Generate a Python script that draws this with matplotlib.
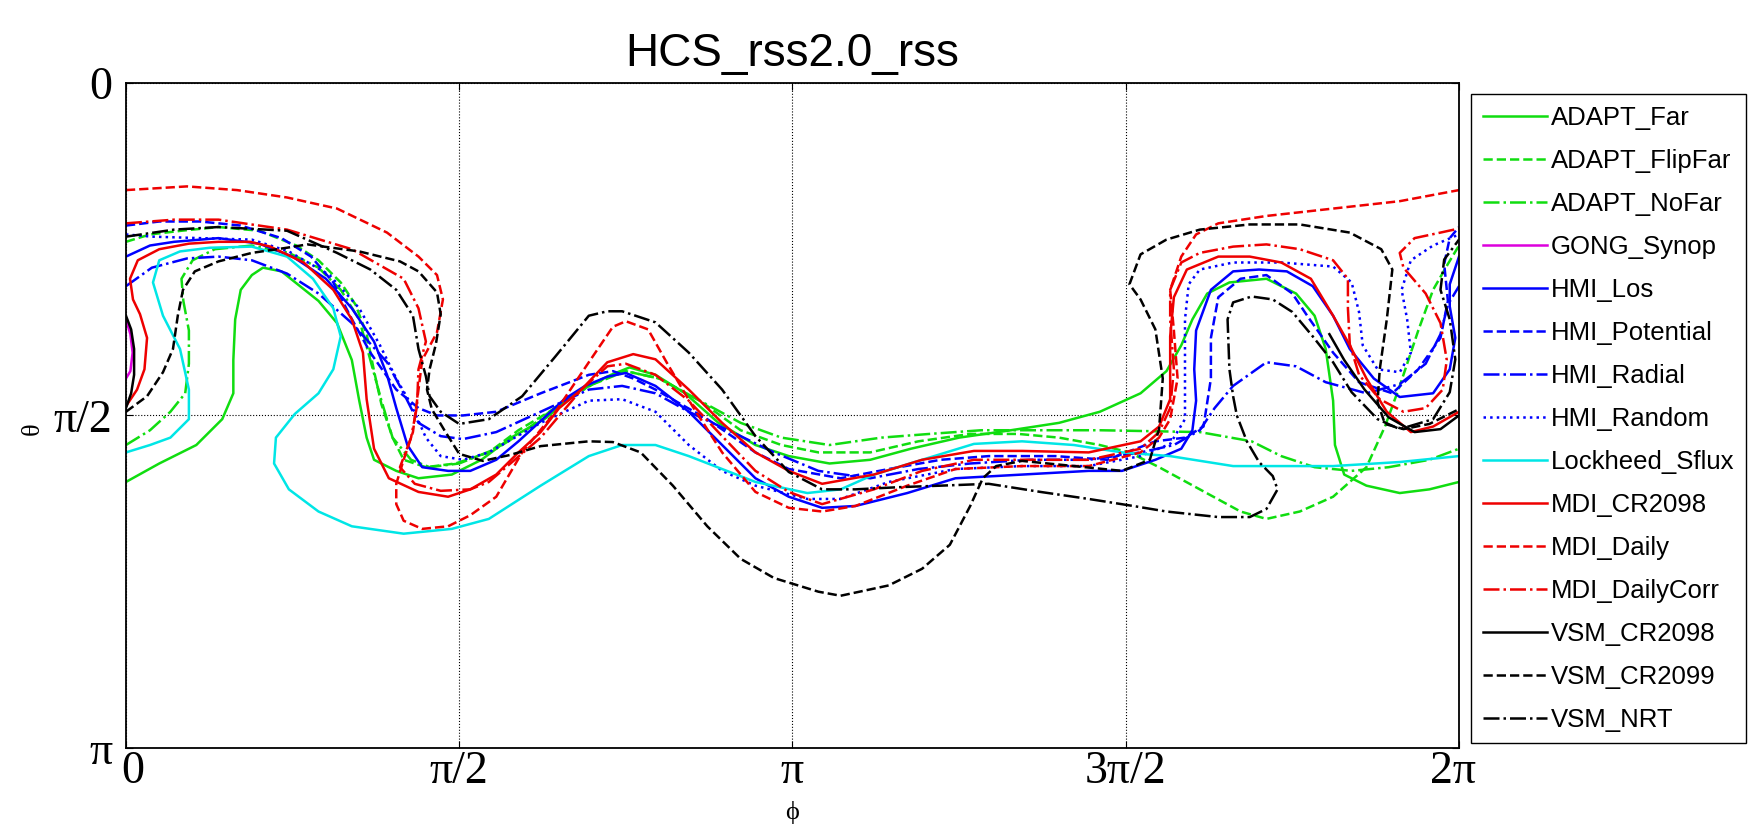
import numpy as np
import matplotlib
matplotlib.use("Agg")
import matplotlib.pyplot as plt
import matplotlib.transforms as mtrans

# HCS contours, (phi, theta) in degrees
adapt_far = [(0,108),(9,103),(19,98),(26,91),(29,84),(29,75),(29.5,64),(31,56),(34,52),(37,50),(42,51),(47,55),(52,59),(57,65),(61,75),(63,86),(65,96),(67,102),(73,105),(79,107),(88,106),(96,102),(104,96),(113,91),(123,83),(131,79),(136,77),(143,79),(151,84),(160,92),(170,98),(179,101),(190,103),(201,102),(212,99),(225,96),(239,94),(252,92),(263,89),(274,84),(281,78),(285,71),(288,64),(292,57),(298,54),(308,53),(316,57),(321,63),(324,72),(326,86),(326.5,98),(329,106),(335,109),(344,111),(352,110),(360,108)]
adapt_flipfar = [(0,43),(6.5,41),(15,40),(25,39),(36,40),(46,44),(52,48),(58,54),(62,60),(65,68),(67,78),(69,87),(72,96),(75,102),(81,104),(89,103),(98,100),(106,94),(116,88),(125,82),(135,78),(144,80),(155,86),(166,94),(177,98),(187,100),(201,100),(214,97),(228,95),(241,95),(252,96),(263,98),(271,100),(279,104),(290,110),(301,116),(308,118),(317,116),(326,112),(335,104),(340,93),(344,82),(349,67),(353,56),(357,49),(360,44)]
adapt_nofar = [(0,98),(6.5,94),(12,89),(16,84),(17,76),(17,67),(15.5,59),(15,53),(18,48),(24,45),(34,44),(44,46),(52,50),(58,56),(63,64),(66,75),(69,86),(72,96),(77,102),(82,104),(90,103),(100,99),(108,94),(117,87),(127,81),(135,78),(144,80),(155,86),(166,92),(177,96),(190,98),(204,96),(217,95),(231,94),(247,94),(263,94),(290,94.5),(304,97),(312,101),(321,104),(331,105),(341,104),(352,102),(360,99)]
gong_synop = [(0,64),(1.2,68),(1.8,73),(1.2,78),(0,80)]
hmi_los = [(0,47),(6.5,44),(13,43),(25,42),(36,43.5),(45,47),(54,53),(61,61),(67,70),(70.5,79),(73,88),(76,98),(80,104),(87,105),(93,105),(100,102),(106,97),(112,91.5),(118.5,85.5),(124,82),(130,79.5),(135,78.5),(143,82),(152,89),(161,98),(170,107),(179,112),(188,115),(197,114.5),(211,111),(224,107),(242,106),(260,105),(269,105),(278,102),(285,99),(288,94),(289,86),(288.5,77.5),(289,67),(293,56),(299,51),(306,50.5),(313.5,51),(320.5,55),(326,63),(330.5,72),(337,80),(344,85),(353,84),(357.5,77.5),(359,69),(357.5,60.5),(357.5,54.5),(360,47)]
hmi_potential = [(0,38.6),(9,37.5),(20,37.5),(31,38.6),(42,42),(50,47),(56,54),(60.5,63),(66,73),(73,83),(79,88),(84,90),(91,90),(100,89),(112,84),(125,79),(131.5,78),(137,80),(143,83),(157,91),(170,100),(179,104.5),(193,107),(206,104.5),(220,102),(233,101),(251,101),(265,102),(278,97),(286,96),(291,93),(293,80),(293,69),(295,58),(301,53),(308,52),(315,57),(319,63),(326,73),(333,81),(342,84),(349,77.5),(355,69),(357,59),(356,49),(357.5,42),(360,39)]
hmi_radial = [(0,55),(7,50),(16.5,47.5),(25,47),(34,48),(43.5,51.6),(52,57),(61,65),(70.5,75.6),(75,84),(79,92),(85,95.6),(91,96.4),(100,94.5),(112,89),(125,83),(134,82),(143,84),(152,89),(166,95.6),(175,100),(187,105),(201,107),(214,104.5),(228,103),(244,102),(260,102),(274,100),(283,98),(290,94),(294,88),(299,82),(308,75.6),(316,76.7),(324,81),(335,84),(344,81.5),(351,76),(355,68),(357,60),(360,55)]
hmi_random = [(0,41),(7,41.6),(20,42),(34,42.4),(44,45.6),(55,52),(63,61),(68.6,71),(73,80),(77,87),(81,96),(85,101),(91,102),(98,100),(112,92),(125,86),(134,85.6),(143,89),(152,98),(161,105),(170,109),(184,112.6),(193,112.6),(206,108),(224,104.5),(242,103.7),(260,103.7),(274,101),(282,97.7),(286,91),(286,77.5),(286,64),(287,54.5),(290,50.5),(299,48.6),(312,48.6),(326,49.7),(331,54),(333,62),(334,71),(338,77.5),(344,78.3),(347,73),(346,64),(344.5,56),(347,48),(353,44),(360,41)]
lockheed_sflux = [(0,100),(6.5,98),(12,96),(17,91),(17,83),(14.6,72),(10,63),(7.3,54),(9,48),(14.6,45.6),(22.7,44.6),(34,44.3),(43.5,47),(50.5,53),(56,61),(58,68.6),(56,77.5),(52,84),(45.6,89.6),(40.5,96),(40,103),(44,110),(52,116),(61,120),(75,122),(88,120.7),(98,118),(112,109),(125,101),(134,98),(143,98),(152,101),(161,104.5),(170,108),(184,111),(193,110),(202,106),(215,102),(229,97.7),(242,97),(256,98),(269,100),(282,101),(299,103.7),(326,103.7),(344,102.6),(360,101)]
mdi_cr2098 = [(0,87.5),(3,83),(5,77.5),(5.7,69),(3.8,62.6),(1.9,58.6),(1.1,53),(3.2,48),(9,45),(17,43.5),(25,43),(33.5,43),(39,44.3),(48,48.6),(56,56),(61,64),(64,73),(65,85.6),(67,99),(71,107),(79,110.7),(87,112),(93,110),(100,106),(106,100),(112,94.5),(117,88),(123,83),(130,75.6),(137,73.4),(143,74.8),(152,83),(161,92),(170,100),(179,105),(188,108.5),(202,106),(215,102),(229,99.6),(242,99.6),(260,100),(274,97),(279,93),(282,85.6),(282,68.6),(283,58),(286.5,50.5),(295,47),(303.5,47),(312,48.6),(320,53),(326,63),(330.5,71),(335,80),(340.5,89),(347,94.5),(353,93),(360,89)]
mdi_daily = [(0,29),(16.5,28),(30,29),(43.5,31),(57,34),(70.5,40.5),(79,47),(84,52),(85.6,58.6),(84,67.5),(80,75),(79,83),(77.5,94.5),(75,102),(73,108.5),(73,114),(75,118.5),(80,120.7),(87,120),(93,117),(100,112),(107,100),(116,89),(125,75.6),(131.5,66),(135,64.5),(141,66.7),(146,75.6),(153,87.5),(161,100),(170,110.7),(179,115),(188,116),(197,114.5),(211,109),(224,104.5),(242,103.7),(260,103.7),(274,100),(279,96),(282,91),(284,80),(283,67),(282,56),(285,47),(289,41),(295,38),(308,36),(326,34),(344,32),(360,29)]
mdi_dailycorr = [(0,38),(13,37),(25,37),(43.5,39.7),(61,45),(75,53),(79,61),(81,70),(79,77.5),(78.6,87.5),(77,96),(74,104),(78,108.5),(85,110.4),(93,110),(98,108),(112,96),(123,83),(130,76.7),(135,76),(143,79),(152,86),(161,95.6),(170,105),(179,110.7),(188,114),(202,110),(215,105),(229,102),(242,102),(260,102),(274,99),(279,94.5),(282,88),(283,77.5),(282,64),(282,56),(285,48.6),(290,46),(299,44.3),(308,43.7),(317,45),(326,48),(330,53),(330,61),(330.5,70.7),(333,79),(338.6,85.6),(345,89),(351,88),(355.6,83),(356.7,75),(355,65),(351,57),(345,50),(344,46),(348,42),(355,40.5),(360,39.4)]
vsm_cr2098 = [(0,63),(1.4,66.7),(2.2,72),(2.2,79),(1.4,84),(0,88),(np.nan,np.nan),(325,68),(329,75),(334.5,83),(341,90.5),(348,94.5),(355,93.7),(360,90)]
vsm_cr2099 = [(0,89),(5.7,84.8),(10,78.3),(12.7,72),(14,63),(15.4,56),(18.6,51),(25,48.3),(34,46),(43.5,44.6),(49,43.7),(63,45.6),(74,48.3),(79,51),(84,56.7),(85,62.6),(83.7,70.7),(82,77.5),(81.3,83),(82.6,88.3),(86,94),(90,100.4),(96.4,102.3),(103.7,100.7),(112,98.3),(125,97),(131.5,97.2),(139,100),(147.7,109),(157,120),(166,128.8),(175,134),(187,137.7),(193,138.8),(206,136),(215,131.5),(222.5,125),(228,114.5),(231.4,107),(235,103.7),(242,102.3),(256,103.7),(269,105),(276.5,102),(279,93.7),(280,80),(278,66.7),(274,58.6),(271,54.5),(274,46.4),(281,42.4),(290,39.7),(303.5,38.3),(317,38.3),(330.5,40.5),(339,45),(342,50.5),(340.5,64),(338.6,77.5),(338,86.4),(340,92.3),(345,93.7),(352,92.3),(360,88.3)]
vsm_nrt = [(0,41.6),(13,39.7),(25,39),(43.5,40),(57,46),(66,50.5),(73,56),(77.5,63),(79,72),(81,79.4),(82,84.8),(85,89),(90,92.3),(98,91),(107,84.8),(116,74),(125,63),(130,61.8),(134,61.8),(143,64.8),(152,73),(161,83),(170,95.6),(179,105.3),(188,110),(197,110),(209,109.4),(220,109),(233,108.5),(247,110.7),(260,112.6),(272,114.5),(281,116),(295,117.5),(303.5,117.5),(308,115.3),(311,110),(309.7,106.4),(306,102.6),(302.7,97),(300,90),(299,84.8),(298,77.5),(297.5,64),(299,59.4),(304,57.8),(309.7,58.6),(315,62),(320.5,68.6),(326,75.6),(331,83.7),(338,91),(344,93.7),(353,91),(357.5,83.7),(359,74.8),(357.5,64),(355,56),(356,47.8),(360,42.4)]

names = ["ADAPT_Far", "ADAPT_FlipFar", "ADAPT_NoFar", "GONG_Synop", "HMI_Los",
         "HMI_Potential", "HMI_Radial", "HMI_Random", "Lockheed_Sflux", "MDI_CR2098",
         "MDI_Daily", "MDI_DailyCorr", "VSM_CR2098", "VSM_CR2099", "VSM_NRT"]
curves = [adapt_far, adapt_flipfar, adapt_nofar, gong_synop, hmi_los,
          hmi_potential, hmi_radial, hmi_random, lockheed_sflux, mdi_cr2098,
          mdi_daily, mdi_dailycorr, vsm_cr2098, vsm_cr2099, vsm_nrt]

green, blue, red = "#10dd10", "#0000ff", "#ee0000"
colors = [green, green, green, "#dd00dd", blue, blue, blue, blue, "#00e6e6",
          red, red, red, "k", "k", "k"]
styles = ["-", "--", "-.", "-", "-", "--", "-.", ":", "-", "-", "--", "-.", "-", "--", "-."]

fig = plt.figure(figsize=(17.64, 8.32), dpi=100)
ax = fig.add_axes([0.0714, 0.101, 0.7557, 0.7993])

for name, pts, c, ls in zip(names, curves, colors, styles):
    arr = np.array(pts, dtype=float)
    ax.plot(np.deg2rad(arr[:, 0]), np.deg2rad(arr[:, 1]), color=c, linestyle=ls,
            linewidth=1.8, label=name)

ax.set_xlim(0, 2 * np.pi)
ax.set_ylim(np.pi, 0)
ax.set_xticks([0, np.pi / 2, np.pi, 3 * np.pi / 2, 2 * np.pi])
ax.set_xticklabels(["0", "π/2", "π", "3π/2", "2π"])
ax.set_yticks([0, np.pi / 2, np.pi])
ax.set_yticklabels(["0", "π/2", "π"])
ax.grid(True, linestyle=":", color="k", linewidth=0.8)
ax.tick_params(direction="in", length=5, top=True, right=True, labelsize=33)
ax.tick_params(axis="x", pad=2)
ax.tick_params(axis="y", pad=10)
serif = ["Liberation Serif", "DejaVu Serif"]
for lab in ax.get_xticklabels() + ax.get_yticklabels():
    lab.set_fontfamily(serif)
for sp in ax.spines.values():
    sp.set_linewidth(1.3)

# end labels sit slightly inside the axis ends, as in the original
xlabs = ax.get_xticklabels()
xlabs[0].set_transform(xlabs[0].get_transform() + mtrans.ScaledTranslation(0.07, 0, fig.dpi_scale_trans))
xlabs[-1].set_transform(xlabs[-1].get_transform() + mtrans.ScaledTranslation(-0.06, 0, fig.dpi_scale_trans))

ax.set_xlabel("ϕ", fontsize=19, family=serif)
ax.xaxis.set_label_coords(0.5, -0.08)
ax.set_ylabel("θ", fontsize=19, family=serif)
ax.yaxis.set_label_coords(-0.062, 0.48)

ax.set_title("HCS_rss2.0_rss", fontsize=33, family=["Liberation Sans", "DejaVu Sans"], pad=12)

leg = fig.legend(loc="upper left", bbox_to_anchor=(0.834, 0.887), borderaxespad=0,
                 fancybox=False, edgecolor="k", framealpha=1,
                 prop={"family": ["Liberation Sans", "DejaVu Sans"], "size": 18.5},
                 handlelength=2.5, handletextpad=0.15, labelspacing=0.74, borderpad=0.45)
leg.get_frame().set_linewidth(1.0)

fig.savefig("out.png", dpi=100)
